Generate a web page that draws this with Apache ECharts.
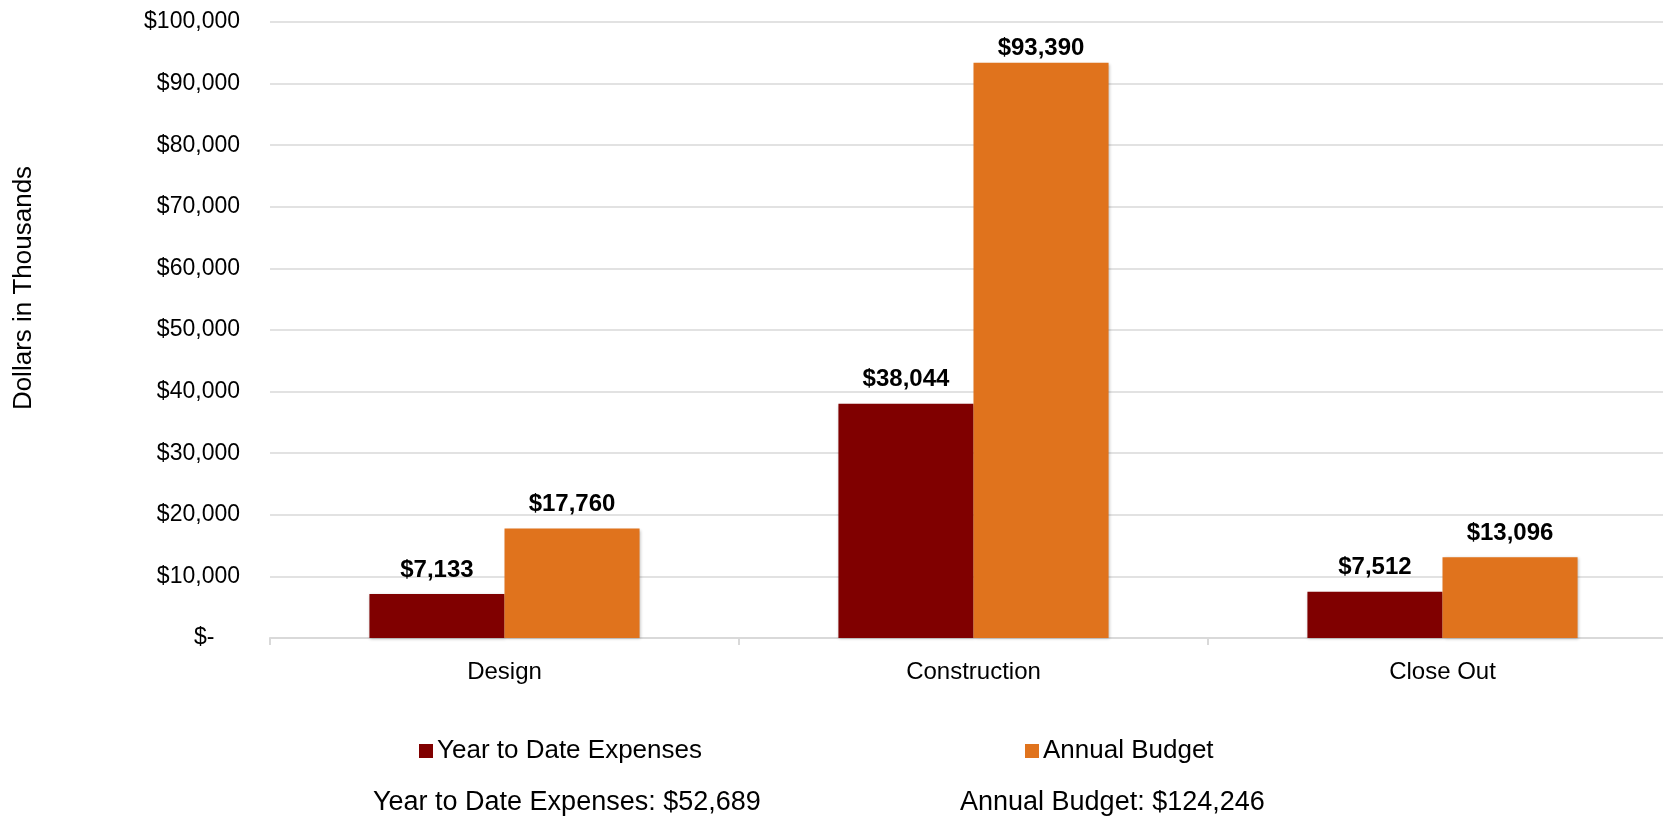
<!DOCTYPE html>
<html><head><meta charset="utf-8">
<script src="https://cdn.jsdelivr.net/npm/echarts@6/dist/echarts.min.js"></script>
<style>html,body{margin:0;padding:0;background:#fff;overflow:hidden}#c{width:1663px;height:818px}</style>
</head><body><div id="c"></div>
<script>
const categories = ['Design', 'Construction', 'Close Out'];
const ytdExpenses = [7133, 38044, 7512];
const annualBudget = [17760, 93390, 13096];
const seriesNames = ['Year to Date Expenses', 'Annual Budget'];
const yAxisTitle = 'Dollars in Thousands';

const fmt = v => '$' + v.toLocaleString('en-US');
const sum = a => a.reduce((s, v) => s + v, 0);
const font = 'Liberation Sans, Arial, sans-serif';

const chart = echarts.init(document.getElementById('c'));
const labelCfg = {show: true, position: 'top', distance: 12, fontFamily: font, fontSize: 24, fontWeight: 'bold', color: '#000', formatter: p => fmt(p.value)};
const legendText = {fontFamily: font, fontSize: 26, color: '#000', padding: [0,0,0,-1]};
// the tallest label sits closer to its bar in the reference
const budgetData = annualBudget.map(v => v > 90000 ? {value: v, label: {distance: 2}} : v);
chart.setOption({
  animation: false,
  grid: {left: 270, width: 1407, top: 22, height: 616, outerBoundsMode: 'none', containLabel: false},
  legend: [
    {data: [seriesNames[0]], left: 414, top: 733, itemWidth: 14, itemHeight: 14, itemGap: 5, icon: 'rect', textStyle: legendText},
    {data: [seriesNames[1]], left: 1020, top: 733, itemWidth: 14, itemHeight: 14, itemGap: 5, icon: 'rect', textStyle: legendText}
  ],
  graphic: [
    {type: 'text', left: 373, top: 789, style: {text: seriesNames[0] + ': ' + fmt(sum(ytdExpenses)), font: '27px ' + font, fill: '#000'}},
    {type: 'text', left: 960, top: 789, style: {text: seriesNames[1] + ': ' + fmt(sum(annualBudget)), font: '27px ' + font, fill: '#000'}},
    {type: 'text', x: 11, y: 288, rotation: Math.PI / 2, style: {text: yAxisTitle, font: '26px ' + font, fill: '#000', align: 'center', verticalAlign: 'top'}}
  ],
  xAxis: {
    type: 'category', data: categories,
    axisLine: {lineStyle: {color: '#d9d9d9', width: 2}},
    axisTick: {show: true, length: 7, lineStyle: {color: '#d9d9d9', width: 2}},
    axisLabel: {fontFamily: font, fontSize: 24, color: '#000', margin: 22}
  },
  yAxis: {
    type: 'value', min: 0, max: 100000, interval: 10000,
    axisLine: {show: false}, axisTick: {show: false},
    splitLine: {lineStyle: {color: '#d9d9d9', width: 1.5}},
    axisLabel: {fontFamily: font, fontSize: 23, color: '#000', margin: 30, formatter: v => v === 0 ? '$-    ' : fmt(v)}
  },
  series: [
    {name: seriesNames[0], type: 'bar', data: ytdExpenses, barGap: '0%', barCategoryGap: '42.4%',
     itemStyle: {color: '#800000', shadowColor: 'rgba(0,0,0,0.25)', shadowBlur: 3, shadowOffsetX: 1, shadowOffsetY: 1}, label: labelCfg},
    {name: seriesNames[1], type: 'bar', data: budgetData, barGap: '0%', barCategoryGap: '42.4%',
     itemStyle: {color: '#E0731D', shadowColor: 'rgba(0,0,0,0.25)', shadowBlur: 3, shadowOffsetX: 1, shadowOffsetY: 1}, label: labelCfg}
  ]
});
</script></body></html>
